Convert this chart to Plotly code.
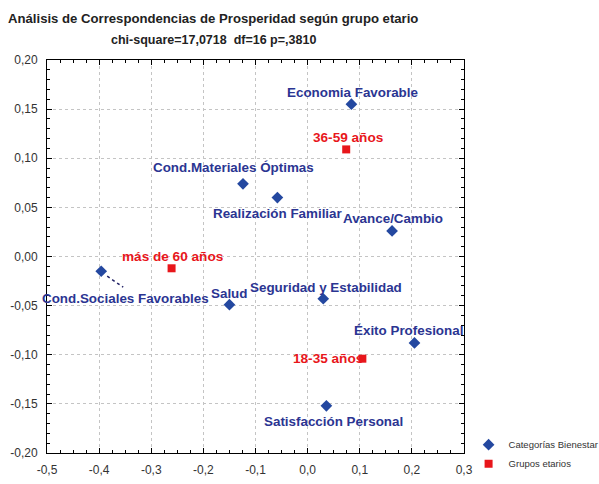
import plotly.graph_objects as go

# Correspondence analysis coordinates (dimension 1, dimension 2)
bienestar_labels = [
    "Economia Favorable", "Cond.Materiales Óptimas", "Realización Familiar",
    "Avance/Cambio", "Cond.Sociales Favorables", "Salud",
    "Seguridad y Estabilidad", "Éxito Profesional", "Satisfacción Personal",
]
bienestar_x = [0.084, -0.124, -0.058, 0.162, -0.396, -0.150, 0.030, 0.205, 0.036]
bienestar_y = [0.155, 0.074, 0.060, 0.026, -0.015, -0.049, -0.043, -0.088, -0.152]

grupos_labels = ["36-59 años", "más de 60 años", "18-35 años"]
grupos_x = [0.074, -0.261, 0.105]
grupos_y = [0.109, -0.012, -0.104]

x_ticks = [-0.5, -0.4, -0.3, -0.2, -0.1, 0.0, 0.1, 0.2, 0.3]
y_ticks = [-0.20, -0.15, -0.10, -0.05, 0.00, 0.05, 0.10, 0.15, 0.20]

BLUE_MARK = "#2448a0"
BLUE_TEXT = "#2b3592"
RED = "#e8161b"
FONT = "Liberation Sans, Arial, sans-serif"


def fmt(v, nd):
    s = f"{v:.{nd}f}".replace(".", ",")
    return "0," + "0" * nd if s.startswith("-0,") and float(v) == 0 else s


# label placement in pixels relative to each point: (xshift, yshift, xanchor)
bienestar_offsets = {
    "Economia Favorable": (1, 12, "center"),
    "Cond.Materiales Óptimas": (-9, 16, "center"),
    "Realización Familiar": (1, -16, "center"),
    "Avance/Cambio": (1, 12, "center"),
    "Cond.Sociales Favorables": (24, -27, "center"),
    "Salud": (0, 11, "center"),
    "Seguridad y Estabilidad": (3, 11, "center"),
    "Éxito Profesional": (-6, 12, "center"),
    "Satisfacción Personal": (7, -16, "center"),
}
grupos_offsets = {
    "36-59 años": (2, 12, "center"),
    "más de 60 años": (1, 12, "center"),
    "18-35 años": (3, 0, "right"),
}

fig = go.Figure()
fig.add_trace(go.Scatter(
    x=bienestar_x, y=bienestar_y, mode="markers", name="Categorías Bienestar",
    marker=dict(symbol="diamond", size=9, color=BLUE_MARK),
    hovertext=bienestar_labels,
))
fig.add_trace(go.Scatter(
    x=grupos_x, y=grupos_y, mode="markers", name="Grupos etarios",
    marker=dict(symbol="square", size=8, color=RED),
    hovertext=grupos_labels,
))

annotations = []
for lab, x, y in zip(bienestar_labels, bienestar_x, bienestar_y):
    dx, dy, anc = bienestar_offsets[lab]
    annotations.append(dict(
        x=x, y=y, xref="x", yref="y", text=f"<b>{lab}</b>", showarrow=False,
        xshift=dx, yshift=dy, xanchor=anc, yanchor="middle",
        font=dict(family=FONT, size=13.4, color=BLUE_TEXT),
    ))
for lab, x, y in zip(grupos_labels, grupos_x, grupos_y):
    dx, dy, anc = grupos_offsets[lab]
    annotations.append(dict(
        x=x, y=y, xref="x", yref="y", text=f"<b>{lab}</b>", showarrow=False,
        xshift=dx, yshift=dy, xanchor=anc, yanchor="middle",
        font=dict(family=FONT, size=13.6, color=RED),
    ))

# title lines (positions given in pixels, converted below)
annotations.append(dict(
    x=213, y=18, xref="paper", yref="paper", showarrow=False,
    xanchor="center", yanchor="middle",
    text="<b>Análisis de Correspondencias de Prosperidad según grupo etario</b>",
    font=dict(family=FONT, size=13.15, color="#222222"),
))
annotations.append(dict(
    x=213, y=40, xref="paper", yref="paper", showarrow=False,
    xanchor="center", yanchor="middle",
    text="<b>chi-square=17,0718  df=16 p=,3810</b>",
    font=dict(family=FONT, size=12.5, color="#222222"),
))

ML, MR, MT, MB = 47, 135, 60, 31
W, H = 599, 484
PW, PH = W - ML - MR, H - MT - MB
for a in annotations[-2:]:
    a["x"] = (a["x"] - ML) / PW
    a["y"] = (H - MB - a["y"]) / PH

# dotted leader from the isolated point to its label
i_cs = bienestar_labels.index("Cond.Sociales Favorables")
shapes = [dict(
    type="line", xref="x", yref="y", xsizemode="pixel", ysizemode="pixel",
    xanchor=bienestar_x[i_cs], yanchor=bienestar_y[i_cs],
    x0=6, y0=-5, x1=22, y1=-16,
    line=dict(color="#222266", width=1.5, dash="dot"),
)]

axis_common = dict(
    showline=True, linecolor="black", linewidth=1, mirror="allticks",
    ticks="inside", ticklen=5, tickcolor="black",
    showgrid=True, gridcolor="#c4c4c4", griddash="dot", gridwidth=1,
    zeroline=False,
    tickfont=dict(family=FONT, size=12, color="#333333"),
)

fig.update_layout(
    width=W, height=H,
    margin=dict(l=ML, r=MR, t=MT, b=MB, autoexpand=False),
    paper_bgcolor="white", plot_bgcolor="white",
    xaxis=dict(
        range=[-0.5, 0.3], tickvals=x_ticks,
        ticktext=[fmt(v, 1) for v in x_ticks],
        ticklabelstandoff=6,
        minor=dict(dtick=0.025, ticks="inside", ticklen=3, tickcolor="black",
                   showgrid=False),
        **axis_common,
    ),
    yaxis=dict(
        range=[-0.2, 0.2], tickvals=y_ticks,
        ticktext=[fmt(v, 2) for v in y_ticks],
        ticklabelstandoff=6,
        minor=dict(dtick=0.01, ticks="inside", ticklen=3, tickcolor="black",
                   showgrid=False),
        **axis_common,
    ),
    showlegend=True,
    legend=dict(
        x=1.011, y=0.058, xanchor="left", yanchor="top",
        font=dict(family=FONT, size=9.5, color="#333333"),
        bgcolor="rgba(0,0,0,0)", itemwidth=30, tracegroupgap=0,
    ),
    annotations=annotations,
    shapes=shapes,
)

fig.write_html("out.html")
